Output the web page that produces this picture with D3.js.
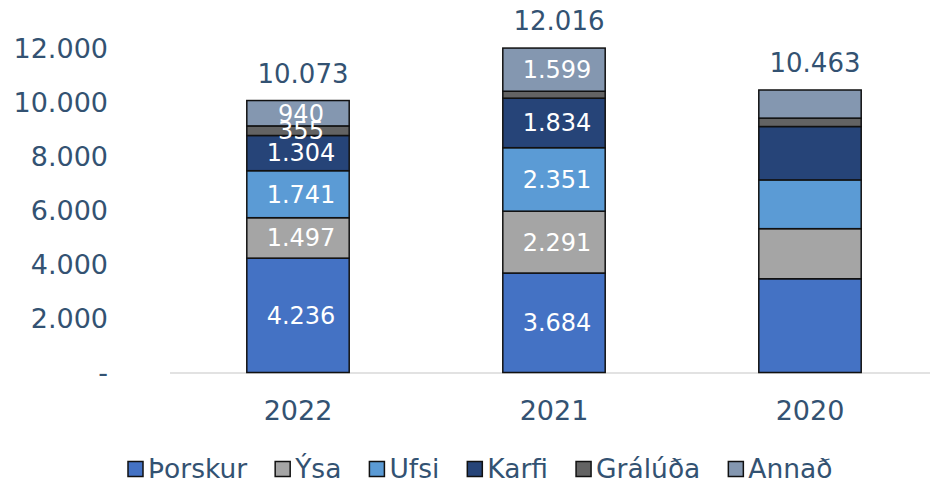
<!DOCTYPE html>
<html>
<head>
<meta charset="utf-8">
<script src="https://cdn.jsdelivr.net/npm/d3@7"></script>
<style>
  html, body { margin: 0; padding: 0; background: #fff; }
  svg { display: block; font-family: "DejaVu Sans", Verdana, sans-serif; }
</style>
</head>
<body>
<svg id="chart" width="930" height="483"></svg>
<script>
// ---- data ----
const years = ["2022", "2021", "2020"];
const seriesNames = ["Þorskur", "Ýsa", "Ufsi", "Karfi", "Grálúða", "Annað"];
const thorskur = [4236, 3684, 3472];
const ysa      = [1497, 2291, 1855];
const ufsi     = [1741, 2351, 1806];
const karfi    = [1304, 1834, 1977];
const gralu    = [355, 257, 312];
const annad    = [940, 1599, 1041];
const showSegmentLabels = [true, true, false];
const yTicks = [0, 2000, 4000, 6000, 8000, 10000, 12000];
const seriesColors = ["#4472C4", "#A5A5A5", "#5B9BD5", "#264478", "#636363", "#8497B0"];

const seriesValues = [thorskur, ysa, ufsi, karfi, gralu, annad];
const rows = years.map((yr, i) => {
  const r = { year: yr };
  seriesNames.forEach((s, j) => r[s] = seriesValues[j][i]);
  return r;
});

const locale = d3.formatLocale({ decimal: ",", thousands: ".", grouping: [3], currency: ["", ""] });
const fmt = locale.format(",d");
const textColor = "#335272";

const svg = d3.select("#chart");
const x = d3.scaleBand().domain(years).range([170, 938]).paddingInner(0.6).paddingOuter(0.3);
const y = d3.scaleLinear().domain([0, 12000]).range([372.5, 48.5]);

// y axis labels
const yAxis = d3.axisLeft(y).tickValues(yTicks).tickSize(0).tickPadding(0)
  .tickFormat(d => d === 0 ? "-" : fmt(d));
const gy = svg.append("g").attr("transform", "translate(108,0)").call(yAxis);
gy.select(".domain").remove();
gy.selectAll("text").attr("fill", textColor).style("font-size", "27px")
  .style("font-family", "'DejaVu Sans', Verdana, sans-serif").attr("dy", "0.35em");

// baseline
svg.append("line").attr("x1", 170).attr("x2", 930).attr("y1", y(0) + 0.5).attr("y2", y(0) + 0.5)
  .attr("stroke", "#D9D9D9").attr("stroke-width", 1.5);

// stacks
const stack = d3.stack().keys(seriesNames);
const stacked = stack(rows);

const layers = svg.append("g").selectAll("g").data(stacked).join("g")
  .attr("fill", (d, i) => seriesColors[i]);
layers.selectAll("rect").data(d => d).join("rect")
  .attr("x", d => x(d.data.year))
  .attr("width", x.bandwidth())
  .attr("y", d => y(d[1]))
  .attr("height", d => y(d[0]) - y(d[1]))
  .attr("stroke", "#111")
  .attr("stroke-width", 1.5);

// segment labels
stacked.forEach((layer, j) => {
  layer.forEach((d, i) => {
    const v = d[1] - d[0];
    if (!showSegmentLabels[i] || v < 300) return;
    svg.append("text")
      .attr("x", x(d.data.year) + x.bandwidth() / 2 + 3)
      .attr("y", (y(d[0]) + y(d[1])) / 2)
      .attr("dy", "0.35em")
      .attr("text-anchor", "middle")
      .attr("fill", "#fff")
      .style("font-size", "24px")
      .text(fmt(v));
  });
});

// totals
rows.forEach(r => {
  const total = d3.sum(seriesNames, s => r[s]);
  svg.append("text")
    .attr("x", x(r.year) + x.bandwidth() / 2 + 5)
    .attr("y", y(total) - 27)
    .attr("dy", "0.35em")
    .attr("text-anchor", "middle")
    .attr("fill", textColor)
    .style("font-size", "26px")
    .text(fmt(total));
});

// x axis labels
const xAxis = d3.axisBottom(x).tickSize(0).tickPadding(0);
const gx = svg.append("g").attr("transform", `translate(0,${411})`).call(xAxis);
gx.select(".domain").remove();
gx.selectAll("text").attr("fill", textColor).style("font-size", "27px")
  .style("font-family", "'DejaVu Sans', Verdana, sans-serif").attr("y", 0).attr("dy", "0.35em");

// legend
const legend = svg.append("g");
let lx = 128;
const ly = 469;
seriesNames.forEach((name, i) => {
  legend.append("rect").attr("x", lx).attr("y", ly - 7.5).attr("width", 15).attr("height", 15)
    .attr("fill", seriesColors[i]).attr("stroke", "#111").attr("stroke-width", 1.5);
  const t = legend.append("text").attr("x", lx + 20).attr("y", ly).attr("dy", "0.35em")
    .attr("fill", textColor).style("font-size", "26.5px").text(name);
  lx += 20 + t.node().getComputedTextLength() + 28;
});
</script>
</body>
</html>
